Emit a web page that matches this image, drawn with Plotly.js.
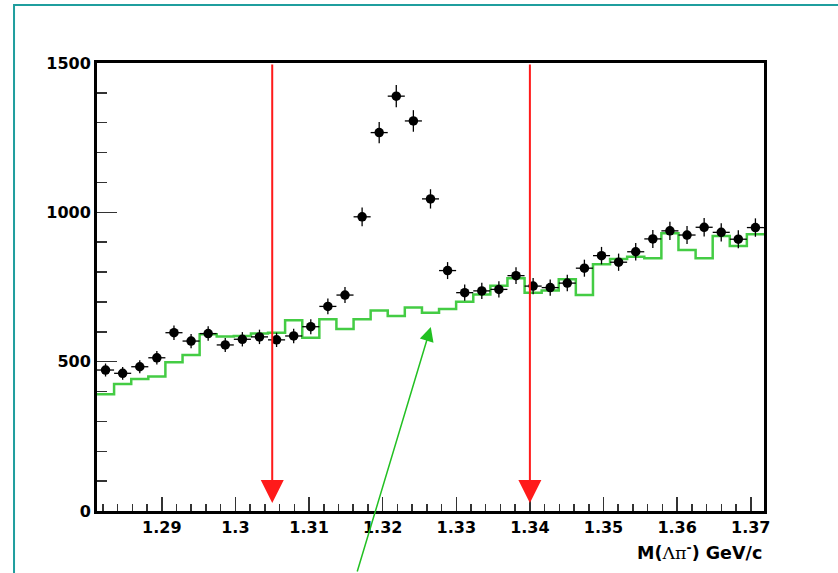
<!DOCTYPE html>
<html>
<head>
<meta charset="utf-8">
<script src="https://cdn.plot.ly/plotly-3.0.1.min.js"></script>
<style>
  html, body { margin: 0; padding: 0; background: #ffffff; }
  #chart { width: 838px; height: 573px; }
</style>
</head>
<body>
<div id="chart"></div>
<script>
// Histogram bin edges (GeV/c)
const binEdges = [
  1.28120, 1.28352, 1.28585, 1.28817, 1.29049, 1.29282, 1.29514, 1.29746, 1.29978, 1.30211,
  1.30443, 1.30675, 1.30908, 1.31140, 1.31372, 1.31605, 1.31837, 1.32069, 1.32301, 1.32534,
  1.32766, 1.32998, 1.33231, 1.33463, 1.33695, 1.33928, 1.34160, 1.34392, 1.34624, 1.34857,
  1.35089, 1.35321, 1.35554, 1.35786, 1.36018, 1.36251, 1.36483, 1.36715, 1.36947, 1.37180
];
// Data points (black, with errors)
const dataCounts = [
  472, 461, 483, 513, 597, 569, 594, 556, 575, 583,
  573, 586, 617, 685, 723, 985, 1267, 1389, 1306, 1045,
  805, 731, 737, 742, 788, 753, 748, 763, 813, 855,
  833, 868, 911, 938, 924, 950, 933, 910, 949
];
// Background histogram (green)
const bgCounts = [
  391, 425, 442, 450, 498, 522, 592, 584, 586, 594,
  597, 639, 580, 642, 609, 642, 671, 653, 681, 664,
  676, 701, 725, 754, 779, 731, 738, 776, 723, 826,
  844, 851, 846, 930, 874, 846, 921, 887, 927
];
// Selection window cuts
const cutValues = [1.305, 1.340];
const xTickVals = [1.29, 1.30, 1.31, 1.32, 1.33, 1.34, 1.35, 1.36, 1.37];
const xTickText = ['1.29', '1.3', '1.31', '1.32', '1.33', '1.34', '1.35', '1.36', '1.37'];
const yTickVals = [0, 500, 1000, 1500];
const yTickText = ['0', '500', '1000', '1500'];
const axisLabel = 'M(<span style="font-weight:normal;font-family:\'DejaVu Serif\'">Λπ</span><sup>-</sup>) GeV/c';
// Arrow pointing at the background histogram
const bgArrowTip = {x: 1.32654, y: 616};

const centers = [];
for (let i = 0; i < dataCounts.length; i++) centers.push((binEdges[i] + binEdges[i + 1]) / 2);
const halfBin = (binEdges[1] - binEdges[0]) / 2;

const stepX = binEdges.slice();
const stepY = bgCounts.concat([bgCounts[bgCounts.length - 1]]);

const tickFont = {family: 'DejaVu Sans', size: 16, color: '#000000', weight: 'bold'};

const traces = [
  {
    type: 'scatter', mode: 'lines', x: stepX, y: stepY,
    line: {shape: 'hv', color: '#44cc44', width: 2.5},
    hoverinfo: 'skip', showlegend: false
  },
  {
    type: 'scatter', mode: 'markers', x: centers, y: dataCounts,
    marker: {color: '#000000', size: 9.5, symbol: 'circle'},
    error_y: {type: 'sqrt', color: '#000000', thickness: 1.3, width: 0},
    error_x: {type: 'constant', value: halfBin, color: '#000000', thickness: 1.3, width: 0},
    showlegend: false
  }
];

const annotations = cutValues.map(c => ({
  x: c, y: 27, xref: 'x', yref: 'y',
  ax: c, ay: 1500, axref: 'x', ayref: 'y',
  text: '', showarrow: true, arrowhead: 2, arrowsize: 2.3, arrowwidth: 2,
  arrowcolor: '#ff1a1a', standoff: 0
}));
annotations.push({
  x: bgArrowTip.x, y: bgArrowTip.y, xref: 'x', yref: 'y',
  ax: -74, ay: 246, text: '', showarrow: true, arrowhead: 2,
  arrowsize: 1.9, arrowwidth: 1.5, arrowcolor: '#22c022', standoff: 0
});
annotations.push({
  x: 1, y: -0.062, xref: 'paper', yref: 'paper', xanchor: 'right', yanchor: 'top',
  text: axisLabel, showarrow: false,
  font: {family: 'DejaVu Sans', size: 17.5, color: '#000000', weight: 'bold'}
});

const layout = {
  width: 838, height: 573,
  margin: {l: 97, r: 74, t: 63, b: 62},
  paper_bgcolor: '#ffffff', plot_bgcolor: '#ffffff',
  showlegend: false,
  xaxis: {
    range: [binEdges[0], binEdges[binEdges.length - 1]],
    tickvals: xTickVals, ticktext: xTickText,
    ticks: 'inside', ticklen: 14, tickwidth: 1.5, tickcolor: '#333333',
    minor: {dtick: 0.002, ticks: 'inside', ticklen: 7, tickwidth: 1.5, tickcolor: '#333333'},
    showgrid: false, zeroline: false,
    showline: true, linecolor: '#000000', linewidth: 3, mirror: true,
    tickfont: tickFont
  },
  yaxis: {
    range: [0, 1500],
    tickvals: yTickVals, ticktext: yTickText,
    ticks: 'inside', ticklen: 20, tickwidth: 1.5, tickcolor: '#333333',
    minor: {dtick: 100, ticks: 'inside', ticklen: 10, tickwidth: 1.5, tickcolor: '#333333'},
    showgrid: false, zeroline: false,
    showline: true, linecolor: '#000000', linewidth: 3, mirror: true,
    tickfont: tickFont
  },
  annotations: annotations,
  shapes: [{
    type: 'rect', xref: 'paper', yref: 'paper',
    x0: -0.1244, x1: 1.3, y0: -0.3, y1: 1.1295,
    line: {color: '#1f9e9e', width: 2}, layer: 'above'
  }]
};

Plotly.newPlot('chart', traces, layout, {displayModeBar: false, staticPlot: true});
</script>
</body>
</html>
